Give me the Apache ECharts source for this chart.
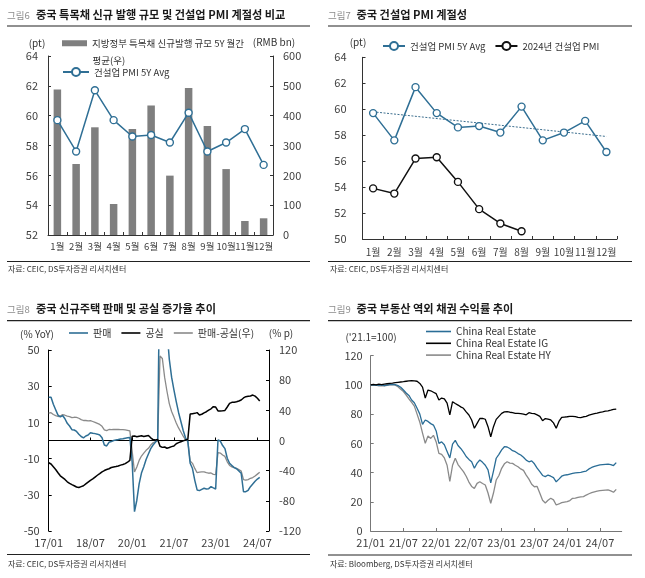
<!DOCTYPE html>
<html><head><meta charset="utf-8">
<script src="https://cdn.jsdelivr.net/npm/echarts@6/dist/echarts.min.js"></script>
<style>html,body{margin:0;padding:0;background:#fff}#c{width:645px;height:578px}</style>
</head><body><div id="c"></div>
<script>
const FONT = '"Noto Sans CJK KR", "Noto Sans", sans-serif';

// ---------- 그림6 ----------
const c6Months = ['1월','2월','3월','4월','5월','6월','7월','8월','9월','10월','11월','12월'];
const c6Issuance = [488, 238, 361, 104, 355, 434, 199, 493, 365, 221, 47, 56];
const c6Pmi5y = [59.7, 57.6, 61.7, 59.7, 58.6, 58.7, 58.2, 60.2, 57.6, 58.2, 59.1, 56.7];

// ---------- 그림7 ----------
const c7Months = ['1월','2월','3월','4월','5월','6월','7월','8월','9월','10월','11월','12월'];
const c7Pmi5y = [59.7, 57.6, 61.7, 59.7, 58.6, 58.7, 58.2, 60.2, 57.6, 58.2, 59.1, 56.7];
const c7Pmi2024 = [53.9, 53.5, 56.2, 56.3, 54.4, 52.3, 51.2, 50.6];
const c7TrendEnds = [59.8, 57.9];

// ---------- 그림8 (monthly, 2017/01 ~ 2024/08; axis to 2024/12) ----------
const c8TickLabels = ['17/01','18/07','20/01','21/07','23/01','24/07'];
const c8Sales = [23.9,23.9,20.0,17.0,14.0,13.0,13.8,12.0,9.5,8.0,6.0,5.8,5.0,3.5,2.2,1.5,2.5,3.0,4.3,4.0,3.8,3.5,3.0,1.5,
 -2.5,-3.0,-1.0,-0.6,0.0,0.3,0.5,0.8,1.0,1.3,1.5,1.7,-12.0,-39.3,-33.0,-24.0,-18.0,-14.5,-10.5,-7.5,-4.5,-2.5,-1.0,0.6,
 110.0,105.0,80.0,61.0,45.0,35.0,28.0,21.5,15.5,10.5,5.5,1.5,-0.5,-12.6,-15.5,-22.0,-27.3,-27.7,-27.0,-26.4,-26.8,-26.6,-25.5,-26.2,
 -26.8,0.3,-0.3,-2.8,-4.5,-9.8,-12.6,-13.8,-15.0,-15.6,-16.8,-18.1,-28.3,-28.3,-27.5,-25.5,-24.0,-22.5,-21.3,-20.4];
const c8Vacancy = [-12.3,-13.0,-14.5,-16.0,-17.8,-19.5,-20.5,-21.5,-22.8,-23.7,-24.4,-25.0,-25.7,-26.0,-25.5,-25.0,-24.0,-23.0,-22.0,-21.2,-20.2,-19.2,-18.3,-17.3,
 -16.6,-16.0,-15.6,-14.9,-14.6,-14.4,-14.1,-13.6,-13.3,-12.8,-12.0,-11.0,2.3,2.5,2.1,2.4,2.6,2.2,2.5,2.8,1.5,0.5,0.3,0.6,
 -3.2,-3.8,-3.6,-4.3,-3.9,-3.4,-3.0,-1.8,-1.2,-0.7,-0.2,0.3,0.6,14.6,14.8,15.0,15.4,14.1,14.5,15.3,15.9,16.8,17.5,18.7,
 18.5,16.3,16.3,16.4,16.6,18.5,20.5,21.1,21.1,21.4,21.8,22.4,23.5,24.2,24.4,24.6,25.1,24.5,23.3,21.8];
const c8Spread = [36.2,36.9,34.5,33.0,31.8,32.5,34.3,33.5,32.3,31.7,30.4,30.8,30.7,29.5,27.7,26.5,26.5,26.0,26.3,25.2,24.0,22.7,21.3,18.8,
 14.1,13.0,14.6,14.3,14.6,14.7,14.6,14.4,14.3,14.1,13.5,12.7,-14.3,-41.8,-35.1,-26.4,-20.6,-16.7,-13.0,-10.3,-6.0,-3.0,-1.3,0.0,
 112.0,108.8,83.6,65.3,48.9,38.4,31.0,23.3,16.7,11.2,5.7,1.2,-1.1,-27.2,-30.3,-37.0,-42.7,-41.8,-41.5,-41.7,-42.7,-43.4,-43.0,-44.9,
 -45.3,-16.0,-16.6,-19.2,-21.1,-28.3,-33.1,-34.9,-36.1,-37.0,-38.6,-40.5,-51.8,-52.5,-51.9,-50.1,-49.1,-47.0,-44.6,-42.2];

// ---------- 그림9 (half-monthly, 2021/01 ~ 2024/10; axis to 2024/11) ----------
const c9TickLabels = ['21/01','21/07','22/01','22/07','23/01','23/07','24/01','24/07'];
const c9CRE = [100.0,99.8,100.0,99.7,100.0,99.6,99.9,100.2,100.4,100.2,99.5,98.4,96.5,94.5,92.8,89.7,87.8,84.0,80.0,73.0,
 76.0,75.0,73.5,72.5,68.5,60.0,61.0,59.0,54.5,50.0,59.5,62.0,58.5,56.5,54.0,51.0,49.0,47.4,43.0,46.5,
 48.6,47.0,45.0,41.8,33.0,41.0,49.8,52.5,55.5,57.7,57.5,56.5,55.0,54.3,53.0,52.0,50.5,48.5,47.4,48.0,
 46.0,43.0,40.6,38.0,37.2,38.3,37.5,36.5,33.7,35.5,37.5,38.3,38.5,39.0,39.5,39.8,40.0,40.2,40.6,41.0,
 42.5,43.5,44.2,44.8,45.2,45.4,45.6,45.8,45.5,44.8,46.8];
const c9IG = [100.0,100.3,100.0,100.5,100.2,100.6,100.8,101.0,101.2,101.5,101.8,102.0,102.2,102.5,102.8,103.0,102.8,102.5,101.0,98.5,
 91.0,96.5,96.0,95.0,94.0,89.7,91.0,90.5,87.5,79.5,88.5,87.3,86.2,85.0,84.0,81.5,79.4,76.0,70.3,73.7,
 77.0,77.1,76.5,71.4,64.5,71.4,76.4,78.5,80.5,81.5,81.7,81.3,81.0,80.5,80.5,80.3,80.0,79.5,81.0,80.5,
 80.3,79.5,78.5,75.5,77.0,76.5,76.0,74.0,70.3,75.0,77.8,78.0,78.2,78.5,78.5,78.3,77.8,77.6,78.2,78.5,
 79.3,79.8,80.3,80.7,81.2,81.5,82.0,82.3,82.7,83.2,83.5];
const c9HY = [100.0,99.7,99.8,99.4,99.6,99.3,99.7,100.0,100.2,99.8,98.8,97.0,95.5,93.1,90.5,88.0,85.5,80.0,74.5,67.0,
 60.0,65.0,63.4,65.5,61.0,53.2,52.5,50.0,45.0,34.0,45.0,49.8,45.5,43.0,40.6,37.5,33.5,30.5,29.2,32.6,
 33.7,32.5,31.5,26.0,19.0,26.0,34.9,38.0,42.9,46.0,47.4,46.5,46.3,45.0,44.0,42.5,41.5,38.3,35.5,32.0,
 30.3,30.5,25.8,21.0,19.2,21.0,22.4,21.3,17.8,18.5,19.4,19.8,20.1,20.8,22.4,22.5,23.0,23.3,23.5,24.6,
 25.5,26.2,26.8,27.3,27.6,27.8,28.0,28.1,27.5,26.5,28.5];

// ---------- derived categories ----------
const c8Cats = [];
for (let i = 0; i < 96; i++) {
  const y = 2017 + Math.floor(i / 12), m = (i % 12) + 1;
  c8Cats.push(String(y).slice(2) + '/' + String(m).padStart(2, '0'));
}
const c9Cats = [];
for (let i = 0; i < 93; i++) {
  const mi = Math.floor(i / 2), y = 2021 + Math.floor(mi / 12), m = (mi % 12) + 1;
  c9Cats.push(String(y).slice(2) + '/' + String(m).padStart(2, '0') + (i % 2 ? 'b' : 'a'));
}
const c7Trend = c7Months.map((_, i) => i === 0 ? c7TrendEnds[0] : (i === c7Months.length - 1 ? c7TrendEnds[1] : '-'));

const BLUE = '#2f6f95', GRAY = '#8a8a8a', BARGRAY = '#7f7f7f', AX = '#333', LBL = '#404040';
const axLabel = (extra) => Object.assign({ color: LBL, fontFamily: FONT, fontSize: 11 }, extra || {});
const axLine = (c) => ({ show: true, lineStyle: { color: c || AX, width: 1 } });
const tickIn = (extra) => Object.assign({ show: true, inside: true, length: 3, lineStyle: { color: AX } }, extra || {});

function txt(x, y, text, size, fill, extra) {
  return { type: 'text', x: x, y: y, silent: true, z: 10,
    style: Object.assign({ text: text, fontSize: size, fontFamily: FONT, fill: fill, align: 'left', verticalAlign: 'middle' }, extra || {}) };
}
function hr(x1, y, x2, w) {
  return { type: 'line', silent: true, shape: { x1: x1, y1: y, x2: x2, y2: y }, style: { stroke: '#222', lineWidth: w } };
}

const legendText = (size) => ({ fontFamily: FONT, fontSize: size, color: '#333' });

const option = {
  animation: false,
  backgroundColor: '#fff',
  grid: [
    { left: 48, top: 56, width: 225, height: 179, outerBoundsMode: 'none' },
    { left: 362.5, top: 57.3, width: 254.5, height: 181.7, outerBoundsMode: 'none' },
    { left: 48.7, top: 350, width: 220.3, height: 181, outerBoundsMode: 'none' },
    { left: 370.7, top: 355.7, width: 251, height: 175.3, outerBoundsMode: 'none' }
  ],
  xAxis: [
    { type: 'category', gridIndex: 0, data: c6Months, boundaryGap: true,
      axisLine: axLine(), axisTick: tickIn(), splitLine: { show: false },
      axisLabel: axLabel({ interval: 0, fontSize: 9.5, margin: 7 }) },
    { type: 'category', gridIndex: 1, data: c7Months, boundaryGap: true,
      axisLine: axLine(), axisTick: tickIn(), splitLine: { show: false },
      axisLabel: axLabel({ interval: 0, fontSize: 10, margin: 8 }) },
    { type: 'category', gridIndex: 2, data: c8Cats, boundaryGap: false, position: 'bottom',
      axisLine: { show: false, onZero: false }, axisTick: { show: false }, splitLine: { show: false },
      axisLabel: axLabel({ interval: 17, margin: 6, formatter: (v, i) => (i % 18 === 0 ? c8TickLabels[i / 18] : '') }) },
    { type: 'category', gridIndex: 2, data: c8Cats, boundaryGap: false, position: 'bottom',
      axisLine: { show: true, onZero: true, lineStyle: { color: '#000', width: 1 } },
      axisTick: tickIn({ interval: 17, lineStyle: { color: '#000' } }), axisLabel: { show: false }, splitLine: { show: false } },
    { type: 'category', gridIndex: 3, data: c9Cats, boundaryGap: false,
      axisLine: axLine('#777'), axisTick: tickIn({ interval: 11, lineStyle: { color: '#777' } }), splitLine: { show: false },
      axisLabel: axLabel({ interval: 11, margin: 6, formatter: (v, i) => (i % 12 === 0 ? c9TickLabels[i / 12] : '') }) }
  ],
  yAxis: [
    { type: 'value', gridIndex: 0, min: 52, max: 64, interval: 2, position: 'left',
      axisLine: axLine(), axisTick: tickIn(), splitLine: { show: false }, axisLabel: axLabel({ margin: 10 }) },
    { type: 'value', gridIndex: 0, min: 0, max: 600, interval: 100, position: 'right',
      axisLine: axLine(), axisTick: tickIn(), splitLine: { show: false }, axisLabel: axLabel({ margin: 10 }) },
    { type: 'value', gridIndex: 1, min: 50, max: 64, interval: 2, position: 'left',
      axisLine: axLine(), axisTick: tickIn(), splitLine: { show: false }, axisLabel: axLabel({ margin: 16 }) },
    { type: 'value', gridIndex: 2, min: -50, max: 50, interval: 20, position: 'left',
      axisLine: axLine('#000'), axisTick: tickIn({ lineStyle: { color: '#000' } }), splitLine: { show: false }, axisLabel: axLabel({ margin: 9 }) },
    { type: 'value', gridIndex: 2, min: -120, max: 120, interval: 40, position: 'right',
      axisLine: axLine('#000'), axisTick: tickIn({ lineStyle: { color: '#000' } }), splitLine: { show: false }, axisLabel: axLabel({ margin: 10 }) },
    { type: 'value', gridIndex: 3, min: 0, max: 120, interval: 20, position: 'left',
      axisLine: axLine('#777'), axisTick: tickIn({ lineStyle: { color: '#777' } }), splitLine: { show: false }, axisLabel: axLabel({ margin: 8 }) }
  ],
  legend: [
    { data: ['지방정부 특목채 신규발행 규모 5Y 월간'], left: 62, top: 38.5, padding: 0, icon: 'rect',
      itemWidth: 25, itemHeight: 6, textStyle: legendText(9.5), selectedMode: false },
    { data: ['건설업 PMI 5Y Avg'], left: 62, top: 67, padding: 0,
      itemWidth: 26, itemHeight: 10, textStyle: legendText(9.5), selectedMode: false },
    { data: ['건설업 PMI 5Y Avg', '2024년 건설업 PMI'], left: 382, top: 41, padding: 0, itemGap: 9,
      itemWidth: 22, itemHeight: 10, textStyle: legendText(9.5), selectedMode: false },
    { data: ['판매', '공실', '판매-공실(우)'], left: 69, top: 328, padding: 0, itemGap: 10, icon: 'rect',
      itemWidth: 19, itemHeight: 1.6, textStyle: legendText(10), selectedMode: false },
    { data: ['China Real Estate', 'China Real Estate IG', 'China Real Estate HY'], orient: 'vertical', icon: 'rect',
      left: 426, top: 326.5, padding: 0, itemGap: 1.8, itemWidth: 25, itemHeight: 1.6,
      textStyle: legendText(10), selectedMode: false }
  ],
  series: [
    { name: '지방정부 특목채 신규발행 규모 5Y 월간', type: 'bar', xAxisIndex: 0, yAxisIndex: 1,
      data: c6Issuance, barWidth: 7.5, itemStyle: { color: BARGRAY } },
    { name: '건설업 PMI 5Y Avg', type: 'line', xAxisIndex: 0, yAxisIndex: 0, data: c6Pmi5y,
      symbol: 'circle', symbolSize: 7, lineStyle: { color: BLUE, width: 1.5 },
      itemStyle: { color: '#fff', borderColor: BLUE, borderWidth: 1.4 }, z: 5 },
    { name: '건설업 PMI 5Y Avg', type: 'line', xAxisIndex: 1, yAxisIndex: 2, data: c7Pmi5y,
      symbol: 'circle', symbolSize: 7, lineStyle: { color: BLUE, width: 1.5 },
      itemStyle: { color: '#fff', borderColor: BLUE, borderWidth: 1.4 }, z: 5 },
    { name: '2024년 건설업 PMI', type: 'line', xAxisIndex: 1, yAxisIndex: 2, data: c7Pmi2024,
      symbol: 'circle', symbolSize: 7, lineStyle: { color: '#111', width: 1.5 },
      itemStyle: { color: '#fff', borderColor: '#111', borderWidth: 1.4 }, z: 5 },
    { name: 'trend', type: 'line', xAxisIndex: 1, yAxisIndex: 2, data: c7Trend, connectNulls: true,
      symbol: 'none', lineStyle: { color: '#3d6f8f', width: 1, type: [2, 1.5] }, z: 3, silent: true },
    { name: '판매', type: 'line', xAxisIndex: 2, yAxisIndex: 3, data: c8Sales, symbol: 'none',
      lineStyle: { color: BLUE, width: 1.5 }, itemStyle: { color: BLUE }, z: 4 },
    { name: '공실', type: 'line', xAxisIndex: 2, yAxisIndex: 3, data: c8Vacancy, symbol: 'none',
      lineStyle: { color: '#000', width: 1.5 }, itemStyle: { color: '#000' }, z: 5 },
    { name: '판매-공실(우)', type: 'line', xAxisIndex: 2, yAxisIndex: 4, data: c8Spread, symbol: 'none',
      lineStyle: { color: GRAY, width: 1.3 }, itemStyle: { color: GRAY }, z: 3 },
    { name: 'China Real Estate', type: 'line', xAxisIndex: 4, yAxisIndex: 5, data: c9CRE, symbol: 'none',
      lineStyle: { color: '#2a6d96', width: 1.3 }, itemStyle: { color: '#2a6d96' }, z: 4 },
    { name: 'China Real Estate IG', type: 'line', xAxisIndex: 4, yAxisIndex: 5, data: c9IG, symbol: 'none',
      lineStyle: { color: '#000', width: 1.3 }, itemStyle: { color: '#000' }, z: 5 },
    { name: 'China Real Estate HY', type: 'line', xAxisIndex: 4, yAxisIndex: 5, data: c9HY, symbol: 'none',
      lineStyle: { color: GRAY, width: 1.3 }, itemStyle: { color: GRAY }, z: 3 }
  ],
  graphic: [
    // titles
    txt(7, 15, '그림6', 9.5, '#8c8c8c'),
    txt(36, 15, '중국 특목채 신규 발행 규모 및 건설업 PMI 계절성 비교', 11.2, '#1a1a1a', { fontWeight: 'bold' }),
    txt(328, 15, '그림7', 9.5, '#8c8c8c'),
    txt(356.5, 15, '중국 건설업 PMI 계절성', 11.2, '#1a1a1a', { fontWeight: 'bold' }),
    txt(7, 309, '그림8', 9.5, '#8c8c8c'),
    txt(36, 309, '중국 신규주택 판매 및 공실 증가율 추이', 11.2, '#1a1a1a', { fontWeight: 'bold' }),
    txt(328, 309, '그림9', 9.5, '#8c8c8c'),
    txt(356.5, 309, '중국 부동산 역외 채권 수익률 추이', 11.2, '#1a1a1a', { fontWeight: 'bold' }),
    // rules
    hr(7, 26, 310, 1.2), hr(328, 26, 632, 1.2), hr(7, 320.7, 310, 1.2), hr(328, 320.7, 632, 1.2),
    hr(7, 261.5, 310, 1), hr(328, 261.5, 632, 1), hr(7, 554.5, 310, 1), hr(328, 555, 632, 1),
    // sources
    txt(8, 268.5, '자료: CEIC, DS투자증권 리서치센터', 8, '#333'),
    txt(330, 268.5, '자료: CEIC, DS투자증권 리서치센터', 8, '#333'),
    txt(8, 563.5, '자료: CEIC, DS투자증권 리서치센터', 8, '#333'),
    txt(330, 563.5, '자료: Bloomberg, DS투자증권 리서치센터', 8, '#333'),
    // units
    txt(37, 43, '(pt)', 10, '#333', { align: 'center' }),
    txt(274, 42.5, '(RMB bn)', 10, '#333', { align: 'center' }),
    txt(92.5, 60, '평균(우)', 9.5, '#333'),
    txt(358, 42, '(pt)', 10, '#333', { align: 'center' }),
    txt(37, 334, '(% YoY)', 10, '#333', { align: 'center' }),
    txt(281, 333, '(% p)', 10, '#333', { align: 'center' }),
    txt(371, 337, "('21.1=100)", 10, '#333', { align: 'center' })
  ]
};

const chart = echarts.init(document.getElementById('c'), null, { renderer: 'canvas' });
chart.setOption(option);
</script></body></html>
